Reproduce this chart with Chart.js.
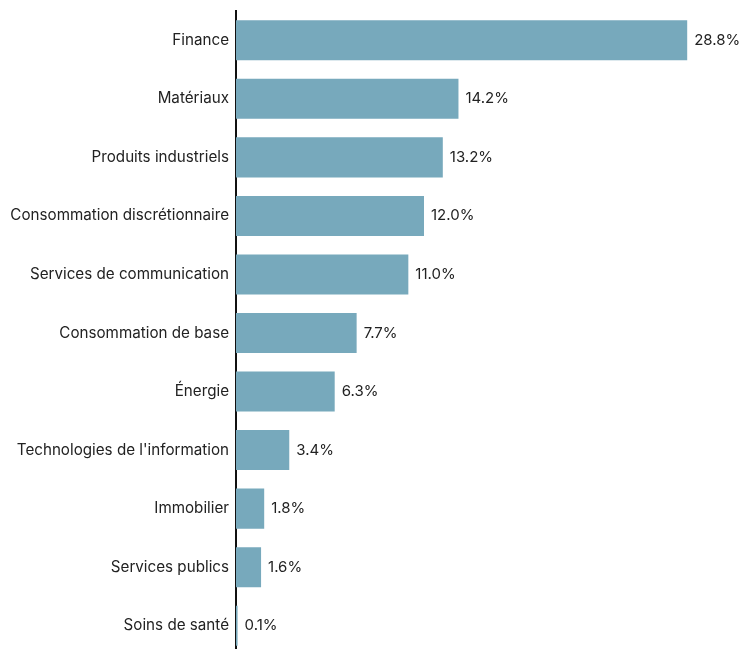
<!DOCTYPE html>
<html>
<head>
<meta charset="utf-8">
<script src="https://cdn.jsdelivr.net/npm/chart.js@4"></script>
<style>
  html, body { margin: 0; padding: 0; background: #fff; overflow: hidden; }
</style>
</head>
<body>
<canvas id="sectorChart" width="740" height="655" style="width:740px;height:655px;display:block"></canvas>
<script>
const categories = [
    "Finance", "Matériaux", "Produits industriels", "Consommation discrétionnaire",
    "Services de communication", "Consommation de base", "Énergie",
    "Technologies de l'information", "Immobilier", "Services publics", "Soins de santé"
];
const weights = [28.8, 14.2, 13.2, 12.0, 11.0, 7.7, 6.3, 3.4, 1.8, 1.6, 0.1];

const FONT = "Inter, 'Liberation Sans', sans-serif";

// Etiquettes de valeur à droite des barres
const valueLabels = {
    id: 'valueLabels',
    afterDatasetsDraw(chart) {
        const ctx = chart.ctx;
        const meta = chart.getDatasetMeta(0);
        ctx.save();
        ctx.font = "15px " + FONT;
        ctx.fillStyle = "#222";
        ctx.textAlign = "left";
        ctx.textBaseline = "middle";
        meta.data.forEach(function(bar, i) {
            ctx.fillText(weights[i].toFixed(1) + "%", bar.x + 7, bar.y);
        });
        ctx.restore();
    }
};

new Chart(document.getElementById("sectorChart"), {
    type: 'bar',
    data: {
        labels: categories,
        datasets: [{
            data: weights,
            backgroundColor: '#77a9bc',
            categoryPercentage: 1,
            barPercentage: 0.684,
        }],
    },
    options: {
        indexAxis: 'y',
        responsive: false,
        animation: false,
        layout: { padding: { top: 11, right: 34, left: 0, bottom: 0 } },
        plugins: { legend: { display: false }, tooltip: { enabled: false } },
        scales: {
            x: {
                display: false,
                min: 0,
                max: 30,
            },
            y: {
                grid: { display: false, drawTicks: false },
                border: { display: true, color: '#111', width: 2 },
                ticks: {
                    color: '#222',
                    padding: 7,
                    font: { family: FONT, size: 15.2 }
                },
                afterFit: function(scale) {
                    scale.width = 236;
                    scale.paddingTop = 0;
                    scale.paddingBottom = 0;
                }
            }
        }
    },
    plugins: [valueLabels]
});
</script>
</body>
</html>
